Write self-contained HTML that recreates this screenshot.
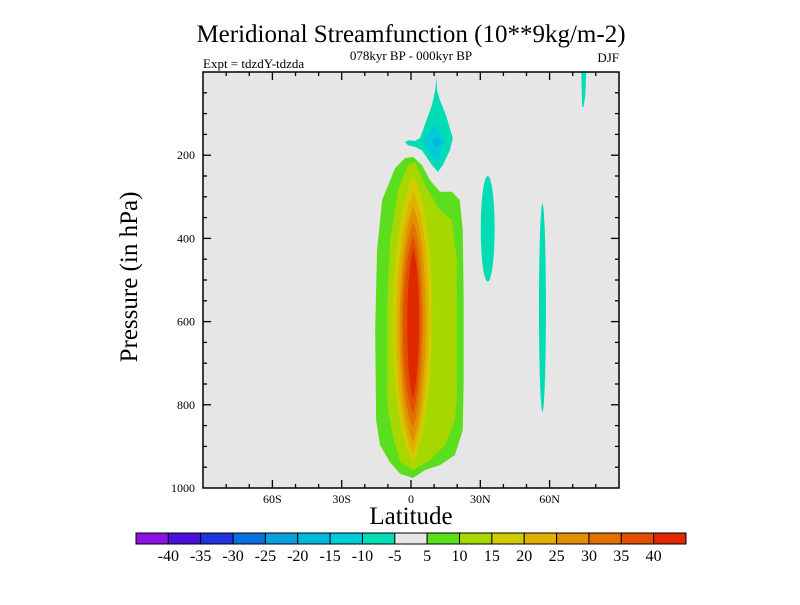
<!DOCTYPE html>
<html><head><meta charset="utf-8"><style>
body{margin:0;background:#fff}
svg text{font-family:"Liberation Serif",serif;fill:#000}
</style></head><body>
<svg width="800" height="600" viewBox="0 0 800 600">
<text x="411" y="42" font-size="25" text-anchor="middle">Meridional Streamfunction (10**9kg/m-2)</text>
<text x="411" y="60" font-size="13" text-anchor="middle">078kyr BP - 000kyr BP</text>
<text x="203" y="68" font-size="13">Expt = tdzdY-tdzda</text>
<text x="619" y="62" font-size="13" text-anchor="end">DJF</text>
<rect x="203" y="72" width="416" height="416" fill="#e6e6e6"/>
<g id="fills"></g>
<rect x="203" y="72" width="416" height="416" fill="none" stroke="#000" stroke-width="1.5"/>
<g id="ticks"></g>
<text transform="translate(137,277) rotate(-90)" font-size="25" text-anchor="middle">Pressure (in hPa)</text>
<text x="411" y="524" font-size="25" text-anchor="middle">Latitude</text>
<g id="cbar"></g>
</svg>
<script>
const NS="http://www.w3.org/2000/svg";
const xTicks=[-60,-30,0,30,60];
const xTickLabels=["60S","30S","0","30N","60N"];
const yTicks=[200,400,600,800,1000];
const levels=[-40,-35,-30,-25,-20,-15,-10,-5,5,10,15,20,25,30,35,40];
const colors=["#8a12e2","#4a10dc","#2036dc","#0870dc","#0aa0dc","#00b8dc","#00ccd8","#00dcb4","#e6e6e6","#5ade1e","#a6d800","#d0cc00","#e0b000","#e09000","#e07000","#e05000","#e02800"];
// contour polygons [lat, pressure]
const level5=[[0.9,204],[4.7,224],[8.2,260],[12.5,288],[17.7,288],[21.1,308],[22.4,380],[22.8,548],[22.8,740],[22.4,861],[19,921],[12.5,945],[6,957],[0.9,976],[-4.7,966],[-9.1,938],[-13.4,897],[-15.1,837],[-15.5,620],[-14.7,428],[-12.5,308],[-6.9,231],[-2.6,207]];
const level10=[[1.7,216],[6,272],[12.5,332],[17.7,356],[19.8,452],[19.8,789],[19,837],[14.7,897],[8.2,933],[0.9,957],[-4.7,938],[-7.8,877],[-10.3,796],[-10.3,555],[-9.1,404],[-5.6,284],[-1.3,224]];
// core lenses: [topP, bottomP, leftLat, rightLat]
const coreTop=[250,290,325,360,395,425];
const coreBottom=[940,915,890,855,820,785];
const coreLeft=[-8.2,-6.5,-5.2,-4.3,-3.5,-1.7];
const coreRight=[9.5,7.8,6.5,5.2,4.3,3.5];
const neg5=[[11.2,12],[11.2,43],[12.5,67],[15.1,103],[18.1,159],[16.8,188],[13.8,224],[11.6,240],[9.1,224],[4.7,188],[1.7,180],[-1.3,176],[-2.6,168],[-0.9,164],[1.7,166],[3.9,159],[6,127],[9.1,79],[10.3,48]];
const neg10=[[10.3,127],[14.7,163],[12.5,207],[11.2,216],[7.3,188],[5.1,168],[8.2,139]];
const neg15=[[11.2,154],[13.4,168],[11.2,180],[9.1,168]];
// ellipses [lat, p, dLat, dP]
const negEll=[[33.2,377,3,127],[56.9,567,1.5,250]];
const topStreak=[[73.7,0],[75.9,0],[75.4,60],[74.6,84],[74.1,84],[73.9,45]];
const X=l=>411+l*2.31, Y=p=>72+p*0.416;
function poly(pts,c,name){const e=document.createElementNS(NS,"polygon");
e.setAttribute("points",pts.map(q=>X(q[0])+","+Y(q[1])).join(" "));e.setAttribute("fill",c);


document.getElementById("fills").appendChild(e);}
poly(level5,colors[9],"contour-5");
poly(level10,colors[10],"contour-10");
for(let i=0;i<coreTop.length;i++){
 const t=Y(coreTop[i]),b=Y(coreBottom[i]),cx=X(0.9),h=b-t;
 const r=cx+(X(coreRight[i])-cx)*1.3,l=cx+(X(coreLeft[i])-cx)*1.3;
 const d=`M${cx},${t} C${r},${t+h*0.15} ${r},${t+h*0.8} ${cx},${b} C${l},${t+h*0.85} ${l},${t+h*0.2} ${cx},${t}Z`;
 const e=document.createElementNS(NS,"path");e.setAttribute("d",d);e.setAttribute("fill",colors[11+i]);
 
 
 document.getElementById("fills").appendChild(e);}
poly(neg5,colors[7],"contour-neg5");
poly(neg10,colors[6],"contour-neg10");
poly(neg15,colors[5],"contour-neg15");
poly(topStreak,colors[7],"contour-neg-streak");
negEll.forEach(q=>{const e=document.createElementNS(NS,"ellipse");
 e.setAttribute("cx",X(q[0]));e.setAttribute("cy",Y(q[1]));e.setAttribute("rx",q[2]*2.31);e.setAttribute("ry",q[3]*0.416);e.setAttribute("fill",colors[7]);
 
 
 document.getElementById("fills").appendChild(e);});
const tg=document.getElementById("ticks");
function ln(x1,y1,x2,y2){const e=document.createElementNS(NS,"line");
 e.setAttribute("x1",x1);e.setAttribute("y1",y1);e.setAttribute("x2",x2);e.setAttribute("y2",y2);e.setAttribute("stroke","#000");e.setAttribute("stroke-width","1.3");
 
 
 tg.appendChild(e);}
function txt(x,y,s,anchor,name,size){const e=document.createElementNS(NS,"text");
 e.setAttribute("x",x);e.setAttribute("y",y);e.setAttribute("text-anchor",anchor);e.setAttribute("font-size",size);e.textContent=s;
 
 
 return e;}
for(let l=-80;l<=80;l+=10){const maj=l%30===0,L=maj?8:4;
 ln(X(l),488,X(l),488-L);ln(X(l),72,X(l),72+L);}
for(let p=50;p<1000;p+=50){const maj=p%200===0,L=maj?8:4;
 ln(203,Y(p),203+L,Y(p));ln(619,Y(p),619-L,Y(p));}
xTicks.forEach((v,i)=>tg.appendChild(txt(X(v),503,xTickLabels[i],"middle","x-tick-label",12)));
yTicks.forEach(v=>tg.appendChild(txt(195,Y(v)+4,String(v),"end","y-tick-label",12)));
const cb=document.getElementById("cbar");const bx=136,bw=550/colors.length;
colors.forEach((c,i)=>{const e=document.createElementNS(NS,"rect");
 e.setAttribute("x",bx+i*bw);e.setAttribute("y",533);e.setAttribute("width",bw);e.setAttribute("height",11);
 e.setAttribute("fill",c);e.setAttribute("stroke","#000");e.setAttribute("stroke-width","1");
 
 
 cb.appendChild(e);});
levels.forEach((v,i)=>cb.appendChild(txt(bx+(i+1)*bw,561,String(v),"middle","colorbar-label",16)));
</script>
</body></html>
